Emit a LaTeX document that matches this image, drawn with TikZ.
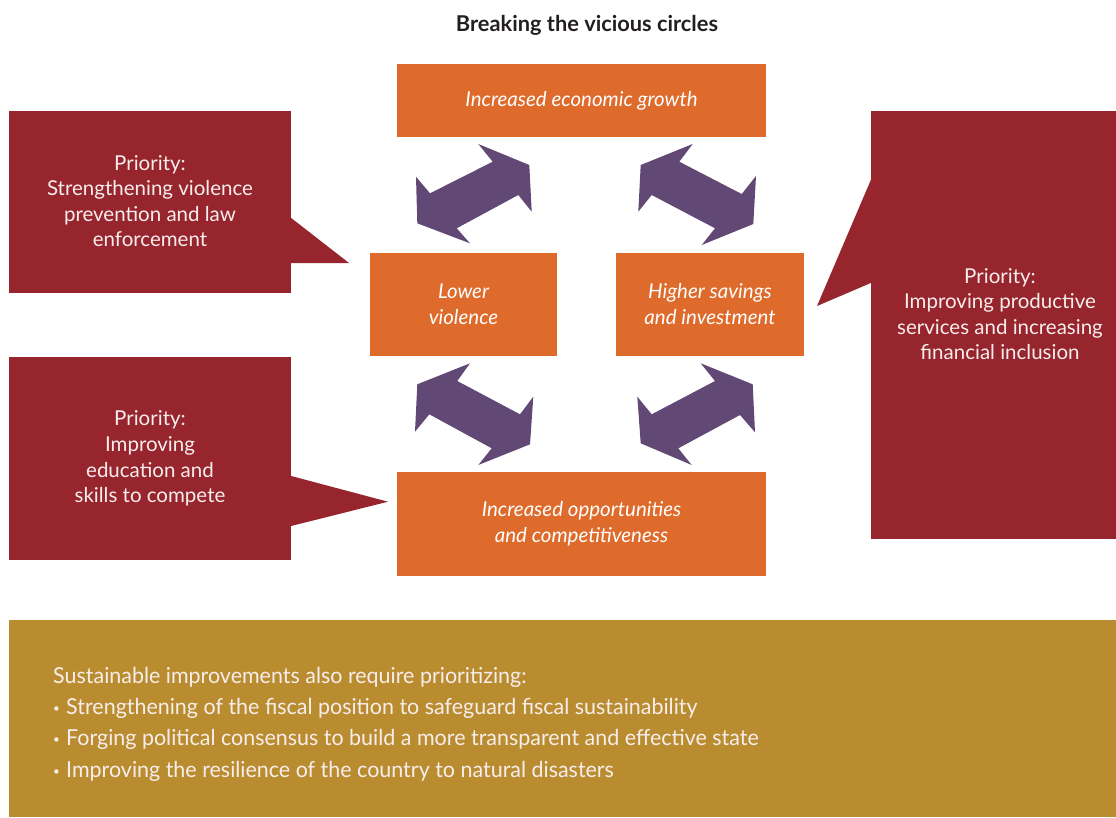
\documentclass[tikz,border=0pt]{standalone}
\usepackage{fontspec}
\setmainfont{Lato}
\newfontfamily\panelfont[FakeStretch=0.975]{Lato}
\definecolor{orng}{HTML}{DE6A2B}
\definecolor{wine}{HTML}{97252D}
\definecolor{purp}{HTML}{614875}
\definecolor{gold}{HTML}{B98D2F}
\definecolor{ttl}{HTML}{231F20}
\definecolor{softwhite}{HTML}{F8EDED}
\newcommand{\pbullet}{\makebox[13pt][l]{\raisebox{2pt}{\fontsize{12}{12}\selectfont•}}}
\begin{document}
\begin{tikzpicture}[x=1pt,y=-1pt,
  obox/.style={fill=orng, text=white, inner sep=0pt, align=center,
    font=\fontsize{20.5}{26}\selectfont\itshape},
  callbox/.style={fill=wine, inner sep=0pt},
  calltext/.style={text=softwhite, align=center, inner sep=0pt,
    font=\fontsize{20.5}{25.6}\selectfont},
  dblarrow/.style={fill=purp, draw=none}]
\useasboundingbox (0,0) rectangle (1116,817);

% title
\node[font=\fontsize{21.8}{25}\selectfont\bfseries, text=ttl] (title) at (587,25) {Breaking the vicious circles};

% orange boxes
\node[obox, minimum width=369pt, minimum height=73pt] (growth) at (581.5,100.5) {Increased economic growth};
\node[obox, minimum width=187pt, minimum height=103pt] (violence) at (463.5,304.5) {Lower\\violence};
\node[obox, minimum width=188pt, minimum height=103pt] (savings) at (710,304.5) {Higher savings\\and investment};
\node[obox, minimum width=369pt, minimum height=104pt] (opps) at (581.5,524) {Increased opportunities\\and competitiveness};

% callouts
\node[callbox, minimum width=282pt, minimum height=182pt] (c1) at (150,202) {};
\fill[wine] (c1.east |- 0,218) -- (349,263) -- (c1.east |- 0,263) -- cycle;
\node[calltext] (t1) at (150,201) {Priority:\\Strengthening violence\\prevention and law\\enforcement};

\node[callbox, minimum width=282pt, minimum height=203pt] (c2) at (150,458.5) {};
\fill[wine] (c2.east |- 0,476) -- (388,501.7) -- (c2.east |- 0,526) -- cycle;
\node[calltext] (t2) at (150,458.5) {Priority:\\Improving\\education and\\skills to compete};

\node[callbox, minimum width=245pt, minimum height=428pt] (c3) at (993.5,325) {};
\fill[wine] (c3.west |- 0,180) -- (817,306) -- (c3.west |- 0,283) -- cycle;
\node[calltext] (t3) at (1000,314) {Priority:\\Improving productive\\services and increasing\\financial inclusion};

% double arrows
\fill[dblarrow] (478.3,144) -- (492.7,161.7) -- (430,193.3) -- (416,176.7) -- (417.3,223.3) -- (470,243.3) -- (456.7,228.3) -- (518.3,195) -- (531.7,211.7) -- (529.3,165) -- cycle;
\fill[dblarrow] (692.7,144) -- (679.3,161.7) -- (741.7,194) -- (756,176) -- (753.3,224) -- (701.7,245) -- (715,228.3) -- (651.7,195) -- (638.3,211.7) -- (640.7,165) -- cycle;
\fill[dblarrow] (470,363.3) -- (457.3,381) -- (520,414.3) -- (533.3,396.7) -- (530,444.3) -- (478.3,465) -- (491.7,448.3) -- (429.3,414.3) -- (415,431.7) -- (417.3,384.3) -- cycle;
\fill[dblarrow] (700.7,363.3) -- (715,381) -- (651.7,414.3) -- (637.3,396.7) -- (640.7,443.3) -- (691.7,465) -- (678.3,448.3) -- (740,415) -- (755,432.3) -- (752.7,384.3) -- cycle;

% bottom gold panel
\node[fill=gold, minimum width=1107pt, minimum height=197pt, inner sep=0pt] (panel) at (562.5,718.5) {};
\node[anchor=west, align=left, text=softwhite, inner sep=0pt,
  font=\panelfont\fontsize{22}{31.3}\selectfont] (ptext) at (53,724)
  {Sustainable improvements also require prioritizing:\\
   \pbullet Strengthening of the fiscal position to safeguard fiscal sustainability\\
   \pbullet Forging political consensus to build a more transparent and effective state\\
   \pbullet Improving the resilience of the country to natural disasters};
\end{tikzpicture}
\end{document}
